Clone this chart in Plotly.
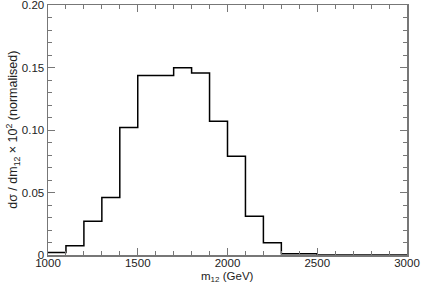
import plotly.graph_objects as go

bin_edges = [1000, 1100, 1200, 1300, 1400, 1500, 1600, 1700, 1800, 1900, 2000,
             2100, 2200, 2300, 2400, 2500, 2600, 2700, 2800, 2900, 3000]
bin_values = [0.0021, 0.0075, 0.027, 0.046, 0.102, 0.1437, 0.1437, 0.1499, 0.1456,
              0.107, 0.079, 0.031, 0.0099, 0.001, 0.001, 0.0, 0.0, 0.0, 0.0, 0.0]
y_tick_vals = [0, 0.05, 0.10, 0.15, 0.20]
y_tick_text = ["0", "0.05", "0.10", "0.15", "0.20"]
x_tick_vals = [1000, 1500, 2000, 2500, 3000]

xs = bin_edges[:]
ys = bin_values + [bin_values[-1]]

fig = go.Figure()
fig.add_trace(go.Scatter(x=xs, y=ys, mode="lines", line_shape="hv",
                         line=dict(color="black", width=1.5), showlegend=False,
                         hoverinfo="skip"))

font = dict(family="Liberation Sans, Arial, sans-serif", size=11.5, color="#222")
axis_common = dict(showline=True, linecolor="#777", linewidth=1.5, mirror="ticks",
                   ticks="inside", tickcolor="#777", tickwidth=1, ticklen=7,
                   showgrid=False, zeroline=False, tickfont=font, automargin=False,
                   ticklabeloverflow="allow")

fig.update_xaxes(range=[1000, 3000], tickvals=x_tick_vals, ticklabelstandoff=-3,
                 minor=dict(dtick=100, ticklen=4, tickcolor="#777", ticks="inside"),
                 **axis_common)
fig.update_yaxes(range=[0, 0.20], tickvals=y_tick_vals, ticktext=y_tick_text,
                 minor=dict(dtick=0.01, ticklen=4, tickcolor="#777", ticks="inside"),
                 **axis_common)

fig.add_annotation(text="m<sub>12</sub> (GeV)", xref="paper", yref="paper",
                   x=0.5, y=-0.052, yanchor="top", showarrow=False, font=font)
fig.add_annotation(text="dσ / dm<sub>12</sub> × 10<sup>2</sup> (normalised)",
                   xref="paper", yref="paper", x=-0.098, y=0.5, xanchor="center",
                   yanchor="middle", textangle=-90, showarrow=False,
                   font=dict(family=font["family"], size=12.5, color="#222"))

fig.update_layout(width=421, height=286, margin=dict(l=48, r=14, t=5, b=31),
                  plot_bgcolor="white", paper_bgcolor="white", font=font,
                  hovermode=False)

fig.write_html("out.html", config={"displayModeBar": False, "staticPlot": True},
               post_script="document.body.style.margin='0';document.body.style.overflow='hidden';")
